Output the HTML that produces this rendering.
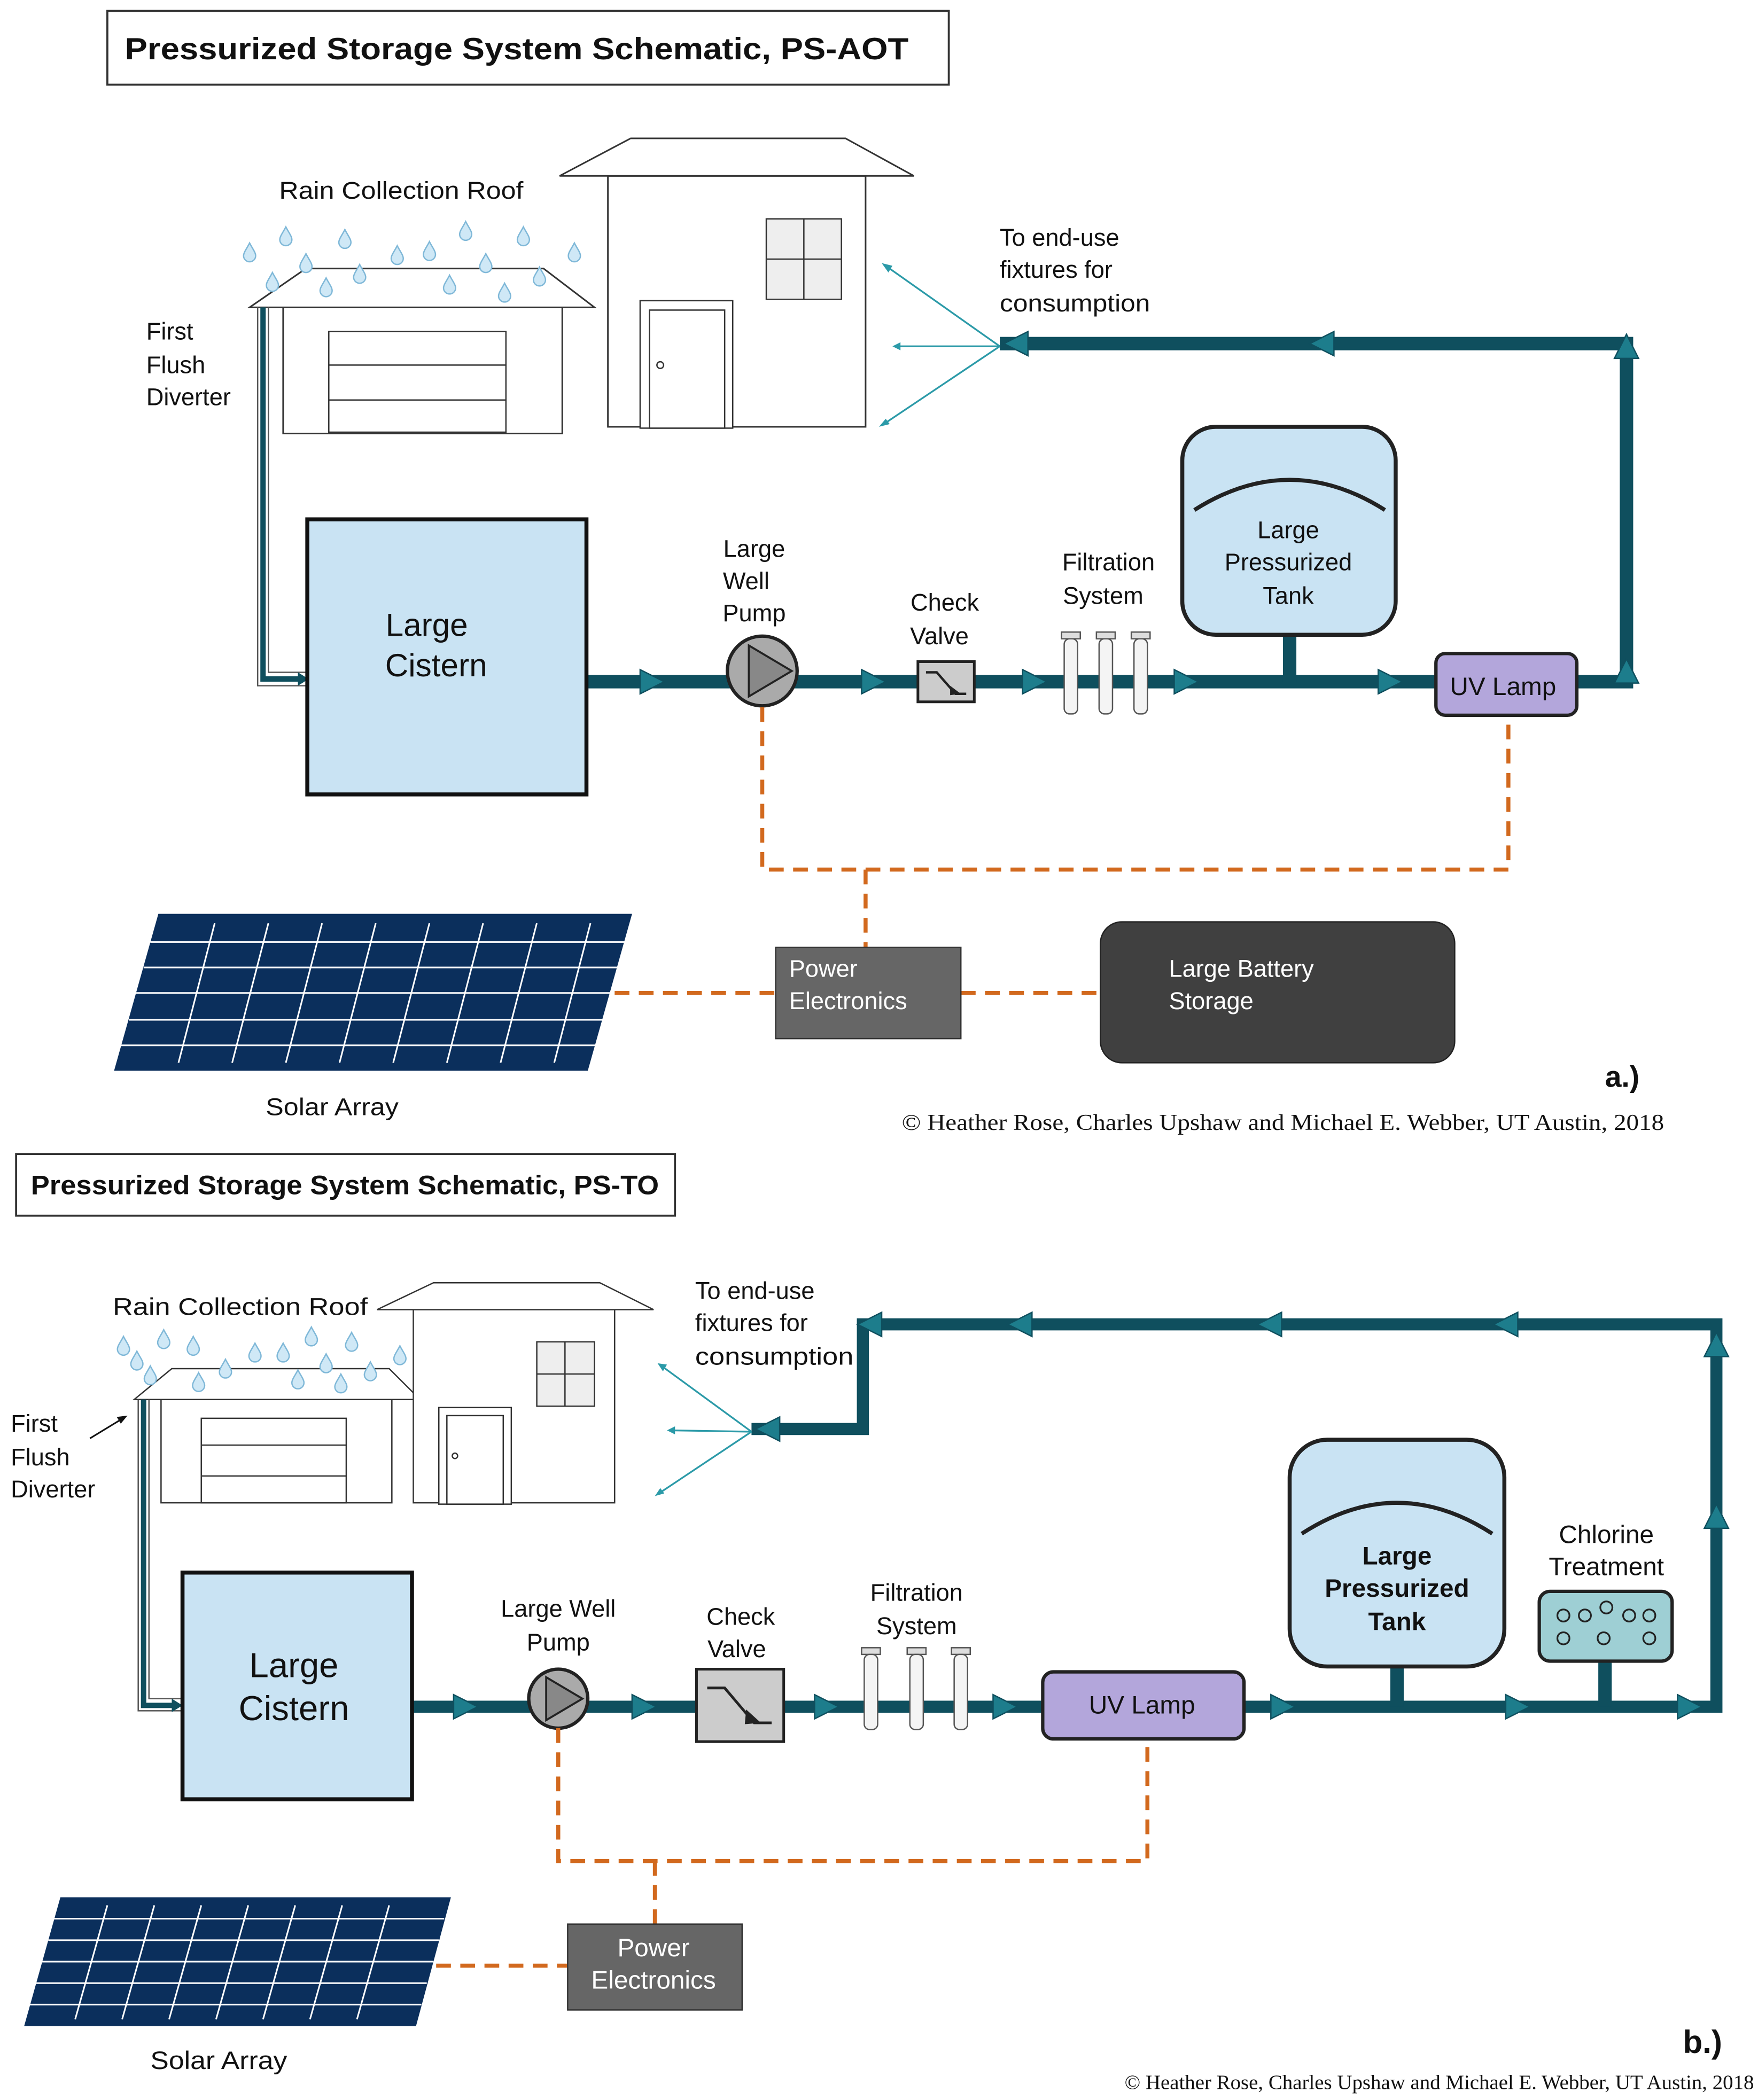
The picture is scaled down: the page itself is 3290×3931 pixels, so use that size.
<!DOCTYPE html>
<html><head><meta charset="utf-8"><style>
html,body{margin:0;padding:0;background:#fff}
svg{display:block}
text{font-family:"Liberation Sans",sans-serif;fill:#111}
.s{font-family:"Liberation Serif",serif}
</style></head><body>
<svg width="3290" height="3931" viewBox="0 0 1310 1565" xmlns="http://www.w3.org/2000/svg">
<defs>
<path id="drop" d="M0,-7 C2,-3 4.5,0 4.5,2.5 A4.5,4.5 0 0 1 -4.5,2.5 C-4.5,0 -2,-3 0,-7Z" fill="#cfe8f6" stroke="#7fb8d8" stroke-width="1"/>
<polygon id="ar" points="-9,-9 9,0 -9,9" fill="#1d7d8c" stroke="#0f4f5e" stroke-width="1"/>
<g id="tube"><rect x="-7" y="0" width="14" height="5" fill="#ddd" stroke="#555"/><rect x="-5" y="5" width="10" height="56" rx="4" fill="#f4f4f4" stroke="#555"/></g>
</defs>
<rect width="1310" height="1565" fill="#fff"/>

<!-- ===== TOP PANEL ===== -->
<rect x="80" y="8" width="627" height="55" fill="#fff" stroke="#333" stroke-width="1.5"/>
<text x="93" y="44" font-size="23" font-weight="bold" textLength="584" lengthAdjust="spacingAndGlyphs">Pressurized Storage System Schematic, PS-AOT</text>

<rect x="211" y="229" width="208" height="94" fill="#fff" stroke="#333" stroke-width="1.2"/>
<polygon points="186,229 228,200 405,200 443,229" fill="#fff" stroke="#333" stroke-width="1.2"/>
<rect x="245" y="247" width="132" height="75" fill="#fff" stroke="#333"/>
<line x1="245" y1="272" x2="377" y2="272" stroke="#333"/><line x1="245" y1="298" x2="377" y2="298" stroke="#333"/>
<rect x="453" y="131" width="192" height="187" fill="#fff" stroke="#333" stroke-width="1.2"/>
<polygon points="417,131 470,103 630,103 681,131" fill="#fff" stroke="#333" stroke-width="1.2"/>
<rect x="571" y="163" width="56" height="60" fill="#eee" stroke="#333"/>
<line x1="599" y1="163" x2="599" y2="223" stroke="#333"/><line x1="571" y1="193" x2="627" y2="193" stroke="#333"/>
<rect x="477" y="224" width="69" height="95" fill="#fff" stroke="#333"/>
<rect x="484" y="231" width="56" height="88" fill="#fff" stroke="#333"/>
<circle cx="492" cy="272" r="2.5" fill="none" stroke="#333"/>
<g>
<use href="#drop" x="186" y="188"/><use href="#drop" x="213" y="176"/><use href="#drop" x="228" y="196"/><use href="#drop" x="257" y="178"/><use href="#drop" x="243" y="214"/><use href="#drop" x="268" y="204"/><use href="#drop" x="296" y="190"/><use href="#drop" x="320" y="187"/><use href="#drop" x="347" y="172"/><use href="#drop" x="335" y="212"/><use href="#drop" x="362" y="196"/><use href="#drop" x="390" y="176"/><use href="#drop" x="376" y="218"/><use href="#drop" x="402" y="206"/><use href="#drop" x="428" y="188"/><use href="#drop" x="203" y="210"/>
</g>
<text x="208" y="148" font-size="18" textLength="182" lengthAdjust="spacingAndGlyphs">Rain Collection Roof</text>
<text x="109" y="253" font-size="18">First</text><text x="109" y="278" font-size="18">Flush</text><text x="109" y="302" font-size="18">Diverter</text>
<path d="M192,229 V511 H230" fill="none" stroke="#555" stroke-width="1"/>
<path d="M200,229 V501 H230" fill="none" stroke="#555" stroke-width="1"/>
<path d="M196,229 V506 H226" fill="none" stroke="#0f4f5e" stroke-width="4"/>
<polygon points="222,501 230,506 222,511" fill="#0f4f5e"/>

<path d="M437,508 H1212 V256 H745" fill="none" stroke="#0f4f5e" stroke-width="10"/>
<rect x="229" y="387" width="208" height="205" fill="#c9e3f3" stroke="#111" stroke-width="3"/>
<text x="318" y="474" font-size="24" text-anchor="middle">Large</text>
<text x="325" y="504" font-size="24" text-anchor="middle">Cistern</text>
<use href="#ar" x="486" y="508"/><use href="#ar" x="651" y="508"/><use href="#ar" x="771" y="508"/><use href="#ar" x="884" y="508"/><use href="#ar" x="1036" y="508"/>
<use href="#ar" transform="translate(1212,500) rotate(-90)"/><use href="#ar" transform="translate(1212,258) rotate(-90)"/>
<use href="#ar" transform="translate(985,256) rotate(180)"/><use href="#ar" transform="translate(757,256) rotate(180)"/>
<g stroke="#2b9aa8" stroke-width="1.3" fill="none">
<line x1="745" y1="258" x2="660" y2="198"/><line x1="745" y1="258" x2="668" y2="258"/><line x1="745" y1="258" x2="657" y2="317"/>
</g>
<g fill="#2b9aa8"><polygon points="657,196 665,198 662,203"/><polygon points="665,258 671,255 671,261"/><polygon points="655,318 660,312 663,316"/></g>
<text x="745" y="183" font-size="18">To end-use</text><text x="745" y="207" font-size="18">fixtures for</text><text x="745" y="232" font-size="18" textLength="112" lengthAdjust="spacingAndGlyphs">consumption</text>
<circle cx="568" cy="500" r="26" fill="#aaa" stroke="#222" stroke-width="2.5"/>
<polygon points="558,481 590,500 558,519" fill="#888" stroke="#222" stroke-width="1.5"/>
<text x="562" y="415" font-size="18" text-anchor="middle">Large</text><text x="556" y="439" font-size="18" text-anchor="middle">Well</text><text x="562" y="463" font-size="18" text-anchor="middle">Pump</text>
<rect x="684" y="493" width="42" height="30" fill="#ccc" stroke="#222" stroke-width="2"/>
<path d="M690,501 H698 L712,517 H720" fill="none" stroke="#222" stroke-width="1.8"/>
<polygon points="708,511 716,517 708,518" fill="#222"/>
<text x="704" y="455" font-size="18" text-anchor="middle">Check</text><text x="700" y="480" font-size="18" text-anchor="middle">Valve</text>
<use href="#tube" x="798" y="471"/><use href="#tube" x="824" y="471"/><use href="#tube" x="850" y="471"/>
<text x="826" y="425" font-size="18" text-anchor="middle">Filtration</text><text x="822" y="450" font-size="18" text-anchor="middle">System</text>
<rect x="956" y="470" width="10" height="38" fill="#0f4f5e"/>
<rect x="881" y="318" width="159" height="155" rx="25" fill="#c9e3f3" stroke="#222" stroke-width="3"/>
<path d="M890,380 Q961,335 1032,380" fill="none" stroke="#222" stroke-width="3"/>
<text x="960" y="401" font-size="18" text-anchor="middle">Large</text><text x="960" y="425" font-size="18" text-anchor="middle">Pressurized</text><text x="960" y="450" font-size="18" text-anchor="middle">Tank</text>
<rect x="1070" y="487" width="105" height="46" rx="7" fill="#b3a6db" stroke="#222" stroke-width="2.5"/>
<text x="1120" y="518" font-size="19" text-anchor="middle">UV Lamp</text>
<g stroke="#d2691e" stroke-width="3" stroke-dasharray="11,7" fill="none">
<path d="M568,527 V648 H1124 V533"/><path d="M645,648 V706"/><path d="M458,740 H578"/><path d="M716,740 H820"/>
</g>
<rect x="578" y="706" width="138" height="68" fill="#666" stroke="#333"/>
<text x="588" y="728" font-size="18" style="fill:#fff">Power</text><text x="588" y="752" font-size="18" style="fill:#fff">Electronics</text>
<rect x="820" y="687" width="264" height="105" rx="16" fill="#404040" stroke="#222"/>
<text x="871" y="728" font-size="18" style="fill:#fff">Large Battery</text><text x="871" y="752" font-size="18" style="fill:#fff">Storage</text>
<polygon points="85,798 118,681 471,681 438,798" fill="#0b2f5c"/>
<g stroke="#fff" stroke-width="1.2">
<line x1="112" y1="702" x2="466" y2="702"/><line x1="107" y1="721" x2="461" y2="721"/><line x1="101" y1="740" x2="456" y2="740"/><line x1="96" y1="760" x2="450" y2="760"/><line x1="90" y1="779" x2="445" y2="779"/>
<line x1="160" y1="688" x2="133" y2="792"/><line x1="200" y1="688" x2="173" y2="792"/><line x1="240" y1="688" x2="213" y2="792"/><line x1="280" y1="688" x2="253" y2="792"/><line x1="320" y1="688" x2="293" y2="792"/><line x1="360" y1="688" x2="333" y2="792"/><line x1="400" y1="688" x2="373" y2="792"/><line x1="440" y1="688" x2="413" y2="792"/>
</g>
<text x="198" y="831" font-size="18" textLength="99" lengthAdjust="spacingAndGlyphs">Solar Array</text>
<text x="1196" y="810" font-size="22" font-weight="bold">a.)</text>
<text x="672" y="842" font-size="17" class="s" textLength="568" lengthAdjust="spacingAndGlyphs">© Heather Rose, Charles Upshaw and Michael E. Webber, UT Austin, 2018</text>

<!-- ===== BOTTOM PANEL ===== -->
<rect x="12" y="860" width="491" height="46" fill="#fff" stroke="#333" stroke-width="1.5"/>
<text x="23" y="890" font-size="20" font-weight="bold" textLength="468" lengthAdjust="spacingAndGlyphs">Pressurized Storage System Schematic, PS-TO</text>
<rect x="120" y="1043" width="172" height="77" fill="#fff" stroke="#333"/>
<polygon points="100,1043 128,1020 290,1020 313,1043" fill="#fff" stroke="#333"/>
<rect x="150" y="1057" width="108" height="63" fill="#fff" stroke="#333"/>
<line x1="150" y1="1077" x2="258" y2="1077" stroke="#333"/><line x1="150" y1="1100" x2="258" y2="1100" stroke="#333"/>
<rect x="308" y="976" width="150" height="144" fill="#fff" stroke="#333"/>
<polygon points="281,976 323,956 447,956 487,976" fill="#fff" stroke="#333"/>
<rect x="400" y="1000" width="43" height="48" fill="#eee" stroke="#333"/>
<line x1="421" y1="1000" x2="421" y2="1048" stroke="#333"/><line x1="400" y1="1024" x2="443" y2="1024" stroke="#333"/>
<rect x="327" y="1049" width="54" height="72" fill="#fff" stroke="#333"/>
<rect x="333" y="1055" width="42" height="66" fill="#fff" stroke="#333"/>
<circle cx="339" cy="1085" r="2" fill="none" stroke="#333"/>
<g>
<use href="#drop" x="92" y="1003"/><use href="#drop" x="122" y="998"/><use href="#drop" x="112" y="1025"/><use href="#drop" x="144" y="1003"/><use href="#drop" x="148" y="1030"/><use href="#drop" x="168" y="1020"/><use href="#drop" x="190" y="1008"/><use href="#drop" x="211" y="1008"/><use href="#drop" x="232" y="996"/><use href="#drop" x="222" y="1028"/><use href="#drop" x="243" y="1016"/><use href="#drop" x="262" y="1000"/><use href="#drop" x="254" y="1031"/><use href="#drop" x="276" y="1022"/><use href="#drop" x="298" y="1010"/><use href="#drop" x="102" y="1014"/>
</g>
<text x="84" y="980" font-size="18" textLength="190" lengthAdjust="spacingAndGlyphs">Rain Collection Roof</text>
<text x="8" y="1067" font-size="18">First</text><text x="8" y="1092" font-size="18">Flush</text><text x="8" y="1116" font-size="18">Diverter</text>
<line x1="67" y1="1072" x2="90" y2="1058" stroke="#111" stroke-width="1.2"/><polygon points="95,1055 87,1056 90,1061" fill="#111"/>
<path d="M103,1043 V1275 H137" fill="none" stroke="#555" stroke-width="1"/>
<path d="M111,1043 V1266 H137" fill="none" stroke="#555" stroke-width="1"/>
<path d="M107,1043 V1271 H133" fill="none" stroke="#0f4f5e" stroke-width="4"/>
<polygon points="128,1266 136,1271 128,1276" fill="#0f4f5e"/>

<path d="M307,1272 H1279 V987 H643 V1065 H560" fill="none" stroke="#0f4f5e" stroke-width="9"/>
<rect x="136" y="1172" width="171" height="169" fill="#c9e3f3" stroke="#111" stroke-width="3"/>
<text x="219" y="1250" font-size="26" text-anchor="middle">Large</text><text x="219" y="1282" font-size="26" text-anchor="middle">Cistern</text>
<use href="#ar" x="347" y="1272"/><use href="#ar" x="480" y="1272"/><use href="#ar" x="616" y="1272"/><use href="#ar" x="749" y="1272"/><use href="#ar" x="956" y="1272"/><use href="#ar" x="1131" y="1272"/><use href="#ar" x="1259" y="1272"/>
<use href="#ar" transform="translate(1279,1130) rotate(-90)"/><use href="#ar" transform="translate(1279,1002) rotate(-90)"/>
<use href="#ar" transform="translate(1122,987) rotate(180)"/><use href="#ar" transform="translate(946,987) rotate(180)"/><use href="#ar" transform="translate(760,987) rotate(180)"/><use href="#ar" transform="translate(648,987) rotate(180)"/><use href="#ar" transform="translate(572,1065) rotate(180)"/>
<g stroke="#2b9aa8" stroke-width="1.3" fill="none">
<line x1="560" y1="1067" x2="493" y2="1018"/><line x1="560" y1="1067" x2="500" y2="1066"/><line x1="560" y1="1067" x2="491" y2="1113"/>
</g>
<g fill="#2b9aa8"><polygon points="490,1016 497,1017 494,1022"/><polygon points="497,1066 503,1063 503,1069"/><polygon points="488,1115 492,1109 495,1113"/></g>
<text x="518" y="968" font-size="18">To end-use</text><text x="518" y="992" font-size="18">fixtures for</text><text x="518" y="1017" font-size="18" textLength="118" lengthAdjust="spacingAndGlyphs">consumption</text>
<circle cx="416" cy="1266" r="22" fill="#aaa" stroke="#222" stroke-width="2.5"/>
<polygon points="407,1250 434,1266 407,1282" fill="#888" stroke="#222" stroke-width="1.5"/>
<text x="416" y="1205" font-size="18" text-anchor="middle">Large Well</text><text x="416" y="1230" font-size="18" text-anchor="middle">Pump</text>
<rect x="519" y="1244" width="65" height="54" fill="#ccc" stroke="#222" stroke-width="2"/>
<path d="M527,1258 H540 L562,1284 H575" fill="none" stroke="#222" stroke-width="2"/>
<polygon points="556,1274 567,1284 555,1285" fill="#222"/>
<text x="552" y="1211" font-size="18" text-anchor="middle">Check</text><text x="549" y="1235" font-size="18" text-anchor="middle">Valve</text>
<use href="#tube" x="649" y="1228"/><use href="#tube" x="683" y="1228"/><use href="#tube" x="716" y="1228"/>
<text x="683" y="1193" font-size="18" text-anchor="middle">Filtration</text><text x="683" y="1218" font-size="18" text-anchor="middle">System</text>
<rect x="777" y="1246" width="150" height="50" rx="8" fill="#b3a6db" stroke="#222" stroke-width="2.5"/>
<text x="851" y="1277" font-size="19" text-anchor="middle">UV Lamp</text>
<rect x="1036" y="1240" width="10" height="32" fill="#0f4f5e"/>
<rect x="961" y="1073" width="160" height="169" rx="28" fill="#c9e3f3" stroke="#222" stroke-width="3"/>
<path d="M970,1143 Q1041,1097 1112,1143" fill="none" stroke="#222" stroke-width="3"/>
<text x="1041" y="1166" font-size="19" font-weight="bold" text-anchor="middle">Large</text><text x="1041" y="1190" font-size="19" font-weight="bold" text-anchor="middle">Pressurized</text><text x="1041" y="1215" font-size="19" font-weight="bold" text-anchor="middle">Tank</text>
<rect x="1191" y="1236" width="10" height="36" fill="#0f4f5e"/>
<rect x="1147" y="1186" width="99" height="52" rx="8" fill="#9ecfd4" stroke="#222" stroke-width="2.5"/>
<g fill="none" stroke="#222" stroke-width="1.3">
<circle cx="1165" cy="1204" r="4.5"/><circle cx="1181" cy="1204" r="4.5"/><circle cx="1197" cy="1198" r="4.5"/><circle cx="1214" cy="1204" r="4.5"/><circle cx="1229" cy="1204" r="4.5"/>
<circle cx="1165" cy="1221" r="4.5"/><circle cx="1195" cy="1221" r="4.5"/><circle cx="1229" cy="1221" r="4.5"/>
</g>
<text x="1197" y="1150" font-size="19" text-anchor="middle">Chlorine</text><text x="1197" y="1174" font-size="19" text-anchor="middle">Treatment</text>
<g stroke="#d2691e" stroke-width="3" stroke-dasharray="11,7" fill="none">
<path d="M416,1288 V1387 H855 V1296"/><path d="M488,1387 V1434"/><path d="M325,1465 H423"/>
</g>
<rect x="423" y="1434" width="130" height="64" fill="#666" stroke="#333"/>
<text x="487" y="1458" font-size="19" text-anchor="middle" style="fill:#fff">Power</text><text x="487" y="1482" font-size="19" text-anchor="middle" style="fill:#fff">Electronics</text>
<polygon points="18,1510 45,1414 336,1414 310,1510" fill="#0b2f5c"/>
<g stroke="#fff" stroke-width="1.2">
<line x1="40" y1="1430" x2="331" y2="1430"/><line x1="36" y1="1446" x2="327" y2="1446"/><line x1="31" y1="1462" x2="323" y2="1462"/><line x1="27" y1="1478" x2="318" y2="1478"/><line x1="22" y1="1494" x2="314" y2="1494"/>
<line x1="80" y1="1420" x2="56" y2="1505"/><line x1="115" y1="1420" x2="91" y2="1505"/><line x1="150" y1="1420" x2="126" y2="1505"/><line x1="185" y1="1420" x2="161" y2="1505"/><line x1="220" y1="1420" x2="196" y2="1505"/><line x1="255" y1="1420" x2="231" y2="1505"/><line x1="290" y1="1420" x2="266" y2="1505"/>
</g>
<text x="112" y="1542" font-size="19" textLength="102" lengthAdjust="spacingAndGlyphs">Solar Array</text>
<text x="1254" y="1530" font-size="24" font-weight="bold">b.)</text>
<text x="838" y="1557" font-size="15" class="s" textLength="469" lengthAdjust="spacingAndGlyphs">© Heather Rose, Charles Upshaw and Michael E. Webber, UT Austin, 2018</text>
</svg>
</body></html>
